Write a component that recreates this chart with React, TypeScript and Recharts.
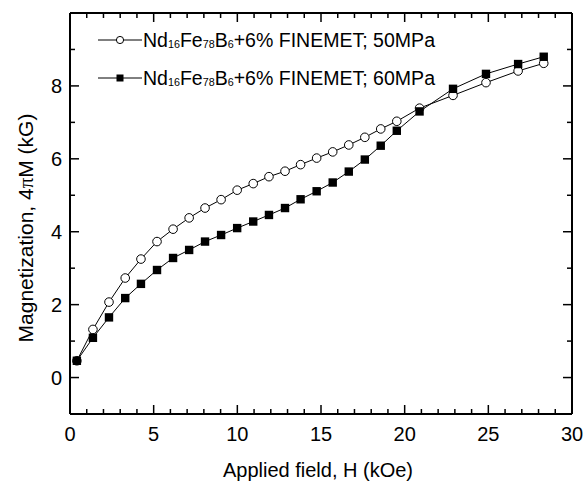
import { LineChart, Line, XAxis, YAxis } from 'recharts';

// applied field H (kOe), shared by both samples
const fieldH = [
  0.41, 1.37, 2.33, 3.3, 4.24, 5.2, 6.16, 7.12, 8.07, 9.03, 9.99, 10.95, 11.89,
  12.85, 13.78, 14.74, 15.7, 16.66, 17.62, 18.57, 19.53, 20.89, 22.89, 24.86, 26.78, 28.31,
];
// 4piM (kG), 50 MPa sample
const mag50 = [
  0.46, 1.32, 2.07, 2.73, 3.25, 3.73, 4.07, 4.38, 4.65, 4.88, 5.14, 5.32, 5.51,
  5.66, 5.84, 6.02, 6.19, 6.38, 6.59, 6.82, 7.03, 7.39, 7.74, 8.09, 8.41, 8.62,
];
// 4piM (kG), 60 MPa sample
const mag60 = [
  0.46, 1.09, 1.65, 2.18, 2.57, 2.95, 3.28, 3.5, 3.73, 3.91, 4.1, 4.28, 4.46,
  4.65, 4.89, 5.11, 5.35, 5.65, 5.98, 6.36, 6.77, 7.3, 7.92, 8.33, 8.6, 8.8,
];

const xTicks = [
  0, 1, 2, 3, 4, 5, 6, 7, 8, 9, 10, 11, 12, 13, 14, 15, 16, 17, 18, 19, 20,
  21, 22, 23, 24, 25, 26, 27, 28, 29, 30,
];
const xLabels = [0, 5, 10, 15, 20, 25, 30];
const yTicks = [-1, 0, 1, 2, 3, 4, 5, 6, 7, 8, 9, 10];
const yLabels = [0, 2, 4, 6, 8];

const data = fieldH.map((h, i) => ({ h, m50: mag50[i], m60: mag60[i] }));

const FONT = "Arial, 'Liberation Sans', Helvetica, sans-serif";

const isMajorX = (v: number) => xLabels.includes(v);
const isMajorY = (v: number) => v % 2 === 0;

// ticks point into the plot; labels only on bottom/left
const BottomTick = (p: any) => {
  const v = p.payload.value;
  if (v === 0 || v === 30) {
    return (
      <text x={p.x} y={p.y + 27} textAnchor="middle" fontSize={20} fontFamily={FONT} fill="#000">{v}</text>
    );
  }
  return (
    <g>
      <line x1={p.x} x2={p.x} y1={p.y} y2={p.y - (isMajorX(v) ? 9 : 5)} stroke="#000" strokeWidth={1.5} />
      {isMajorX(v) && (
        <text x={p.x} y={p.y + 27} textAnchor="middle" fontSize={20} fontFamily={FONT} fill="#000">{v}</text>
      )}
    </g>
  );
};

const TopTick = (p: any) => {
  const v = p.payload.value;
  if (v === 0 || v === 30) return <g />;
  return <line x1={p.x} x2={p.x} y1={p.y} y2={p.y + (isMajorX(v) ? 9 : 5)} stroke="#000" strokeWidth={1.5} />;
};

const LeftTick = (p: any) => {
  const v = p.payload.value;
  return (
    <g>
      {v !== -1 && v !== 10 && (
        <line x1={p.x} x2={p.x + (isMajorY(v) ? 9 : 5)} y1={p.y} y2={p.y} stroke="#000" strokeWidth={1.5} />
      )}
      {yLabels.includes(v) && (
        <text x={p.x - 8} y={p.y + 7} textAnchor="end" fontSize={20} fontFamily={FONT} fill="#000">{v}</text>
      )}
    </g>
  );
};

const RightTick = (p: any) => {
  const v = p.payload.value;
  if (v === -1 || v === 10) return <g />;
  return <line x1={p.x} x2={p.x - (isMajorY(v) ? 9 : 5)} y1={p.y} y2={p.y} stroke="#000" strokeWidth={1.5} />;
};

const OpenCircle = (p: any) => (
  <circle key={`c${p.index}`} cx={p.cx} cy={p.cy} r={4.3} fill="#fff" stroke="#000" strokeWidth={1} />
);
const FilledSquare = (p: any) => (
  <rect key={`s${p.index}`} x={p.cx - 4.2} y={p.cy - 4.2} width={8.4} height={8.4} fill="#000" />
);

const YTitle = () => (
  <text
    transform={`translate(33, 228) rotate(-90)`}
    textAnchor="middle"
    fontSize={21}
    fontFamily={FONT}
    fill="#000"
  >
    Magnetization, 4<tspan fontFamily="'Liberation Serif', serif">π</tspan>M (kG)
  </text>
);

const LegendRow = ({ y, label, marker }: { y: number; label: string; marker: 'circle' | 'square' }) => (
  <g>
    <line x1={98} x2={142} y1={y} y2={y} stroke="#000" strokeWidth={1} />
    {marker === 'circle' ? (
      <circle cx={120} cy={y} r={3.6} fill="#fff" stroke="#000" strokeWidth={1} />
    ) : (
      <rect x={116.5} y={y - 3.5} width={7} height={7} fill="#000" />
    )}
    <text x={143} y={y + 7} fontSize={20} fontFamily={FONT} fill="#000" textLength={292} lengthAdjust="spacingAndGlyphs">
      Nd<tspan fontSize={11} dy={1}>16</tspan>
      <tspan dy={-1}>Fe</tspan>
      <tspan fontSize={11} dy={1}>78</tspan>
      <tspan dy={-1}>B</tspan>
      <tspan fontSize={11} dy={1}>6</tspan>
      <tspan dy={-1}>{label}</tspan>
    </text>
  </g>
);

export default function App() {
  return (
    <div style={{ position: 'absolute', left: 0, top: 0, width: 585, height: 484, background: '#fff' }}>
      <LineChart width={585} height={484} data={data} margin={{ top: 0, right: 0, bottom: 0, left: 0 }}>
        <XAxis
          xAxisId="b"
          dataKey="h"
          type="number"
          domain={[0, 30]}
          ticks={xTicks}
          interval={0}
          allowDataOverflow
          height={70}
          tickSize={0}
          tickMargin={0}
          tickLine={false}
          axisLine={{ stroke: '#000', strokeWidth: 2 }}
          tick={BottomTick}
          label={{ value: 'Applied field, H (kOe)', position: 'insideBottom', offset: 7, fontSize: 20, fontFamily: FONT, fill: '#000', dx: -3 }}
        />
        <XAxis
          xAxisId="t"
          orientation="top"
          dataKey="h"
          type="number"
          domain={[0, 30]}
          ticks={xTicks}
          interval={0}
          allowDataOverflow
          height={13}
          tickSize={0}
          tickMargin={0}
          tickLine={false}
          axisLine={{ stroke: '#000', strokeWidth: 2 }}
          tick={TopTick}
        />
        <YAxis
          yAxisId="l"
          type="number"
          domain={[-1, 10]}
          ticks={yTicks}
          interval={0}
          allowDataOverflow
          width={70}
          tickSize={0}
          tickMargin={0}
          tickLine={false}
          axisLine={{ stroke: '#000', strokeWidth: 2 }}
          tick={LeftTick}
          label={<YTitle />}
        />
        <YAxis
          yAxisId="r"
          orientation="right"
          type="number"
          domain={[-1, 10]}
          ticks={yTicks}
          interval={0}
          allowDataOverflow
          width={13}
          tickSize={0}
          tickMargin={0}
          tickLine={false}
          axisLine={{ stroke: '#000', strokeWidth: 2 }}
          tick={RightTick}
        />
        <Line
          xAxisId="b"
          yAxisId="l"
          dataKey="m50"
          type="linear"
          stroke="#000"
          strokeWidth={1}
          dot={OpenCircle}
          isAnimationActive={false}
        />
        <Line
          xAxisId="b"
          yAxisId="l"
          dataKey="m60"
          type="linear"
          stroke="#000"
          strokeWidth={1}
          dot={FilledSquare}
          isAnimationActive={false}
        />
      </LineChart>
      <svg width={585} height={484} style={{ position: 'absolute', left: 0, top: 0, pointerEvents: 'none' }}>
        <LegendRow y={40} label="+6% FINEMET; 50MPa" marker="circle" />
        <LegendRow y={78} label="+6% FINEMET; 60MPa" marker="square" />
      </svg>
    </div>
  );
}
